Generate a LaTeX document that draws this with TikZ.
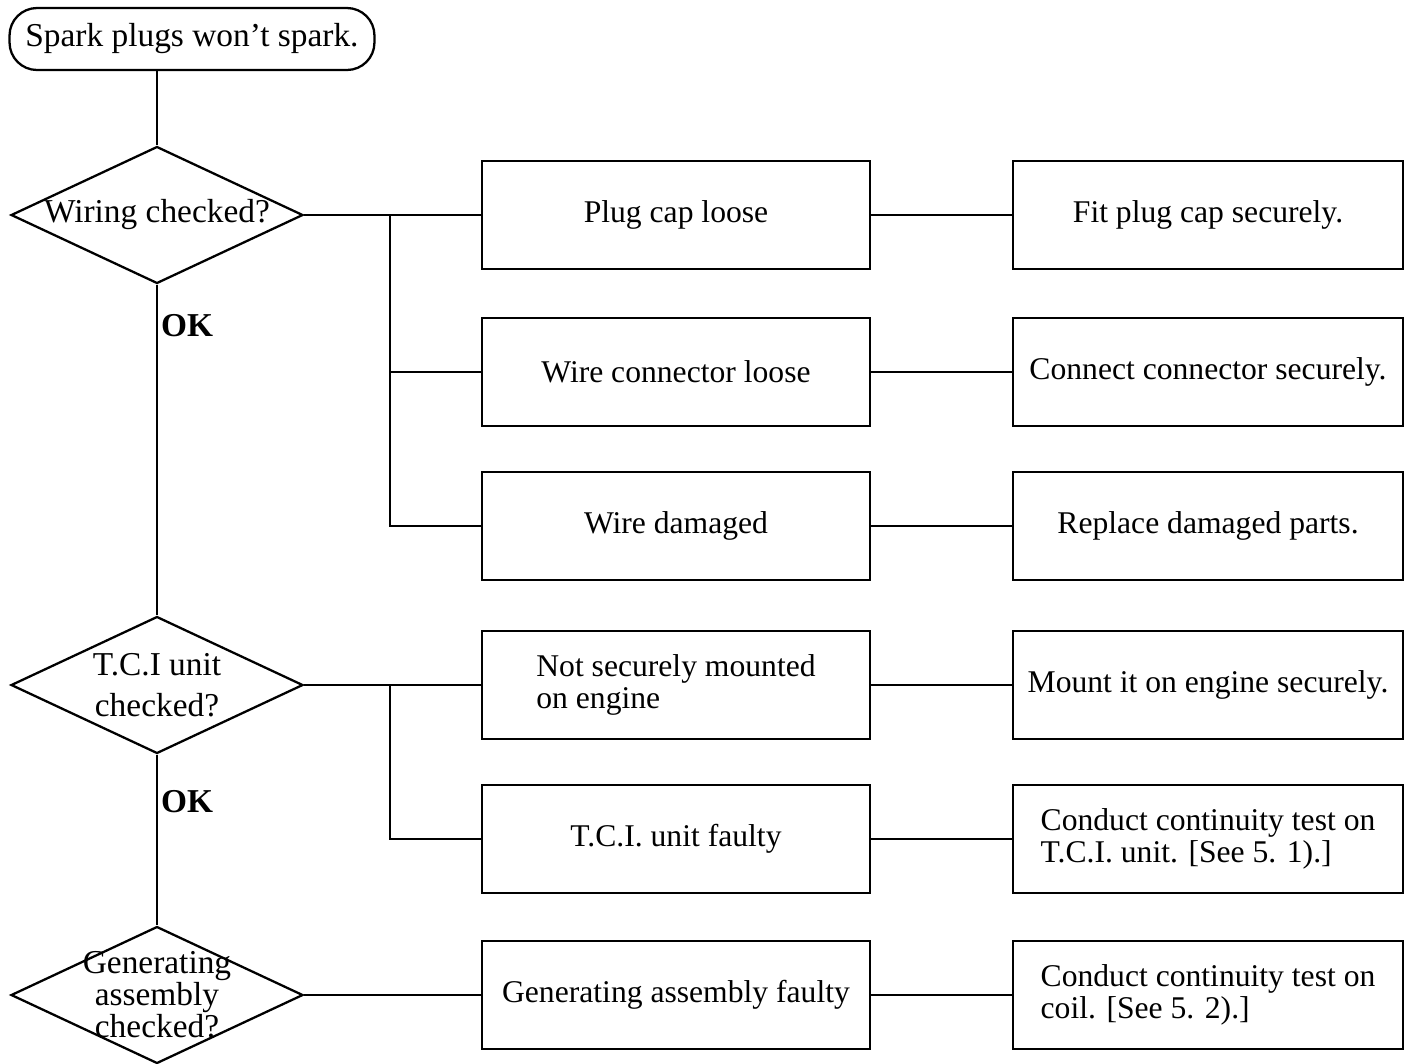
\documentclass[tikz,border=0pt]{standalone}
\usepackage{fontspec}
\setmainfont{Liberation Serif}
\usetikzlibrary{shapes.geometric}
\tikzstyle{start} = [rectangle, rounded corners=0.55cm,
                     minimum width=7.3cm, minimum height=1.24cm,
                     text centered, draw=black, line width=1.3pt,
                     font=\fontsize{19}{21}\selectfont]
\tikzstyle{decision} = [diamond, minimum width=5.84cm, minimum height=2.74cm,
                        inner sep=0pt, draw=black, line width=1.3pt]
\tikzstyle{question} = [align=center, font=\fontsize{19}{21}\selectfont]
\tikzstyle{process} = [rectangle, minimum width=7.76cm, minimum height=2.16cm,
                       align=left, draw=black, line width=1.3pt,
                       font=\fontsize{18}{18}\selectfont]
\tikzstyle{remedy} = [process, minimum width=7.8cm]
\tikzstyle{link} = [line width=1.3pt]

\begin{document}
\begin{tikzpicture}[x=0.02cm, y=-0.02cm]
        \useasboundingbox (0,0) rectangle (1405,1063);

        \node (Start) [start] at (192,39) {Spark plugs won't spark.};

        \node (Check1) [decision, label={[question]center:Wiring checked?}] at (157,215) {};
        \node (Check2) [decision, label={[question]center:{T.C.I unit\\[2pt]checked?}}] at (157,685) {};
        \node (Check3) [decision, label={[question, font=\fontsize{19}{15}\selectfont]center:{Generating\\assembly\\checked?}}] at (157,995) {};

        \node (OK1) [font=\fontsize{19}{21}\selectfont\bfseries] at (187,326) {OK};
        \node (OK2) [font=\fontsize{19}{21}\selectfont\bfseries] at (187,802) {OK};

        \node (Cause1) [process] at (676,215) {Plug cap loose};
        \node (Cause2) [process] at (676,372) {Wire connector loose};
        \node (Cause3) [process] at (676,526) {Wire damaged};
        \node (Cause4) [process] at (676,685) {Not securely mounted\\on engine};
        \node (Cause5) [process] at (676,839) {T.C.I. unit faulty};
        \node (Cause6) [process] at (676,995) {Generating assembly faulty};

        \node (Remedy1) [remedy] at (1208,215) {Fit plug cap securely.};
        \node (Remedy2) [remedy] at (1208,372) {Connect connector securely.};
        \node (Remedy3) [remedy] at (1208,526) {Replace damaged parts.};
        \node (Remedy4) [remedy] at (1208,685) {Mount it on engine securely.};
        \node (Remedy5) [remedy] at (1208,839) {Conduct continuity test on\\T.C.I. unit. [See 5. 1).]};
        \node (Remedy6) [remedy] at (1208,995) {Conduct continuity test on\\coil. [See 5. 2).]};

        \coordinate (Branch1) at (390,215);
        \coordinate (Branch2) at (390,685);

        \draw [link] (Check1.north |- Start.south) -- (Check1.north);
        \draw [link] (Check1.south) -- (Check2.north);
        \draw [link] (Check2.south) -- (Check3.north);

        \draw [link] (Check1.east) -- (Cause1.west);
        \draw [link] (Branch1) |- (Cause3.west);
        \draw [link] (Branch1 |- Cause2.west) -- (Cause2.west);
        \draw [link] (Check2.east) -- (Cause4.west);
        \draw [link] (Branch2) |- (Cause5.west);
        \draw [link] (Check3.east) -- (Cause6.west);

        \draw [link] (Cause1) -- (Remedy1);
        \draw [link] (Cause2) -- (Remedy2);
        \draw [link] (Cause3) -- (Remedy3);
        \draw [link] (Cause4) -- (Remedy4);
        \draw [link] (Cause5) -- (Remedy5);
        \draw [link] (Cause6) -- (Remedy6);

    \end{tikzpicture}
\end{document}
